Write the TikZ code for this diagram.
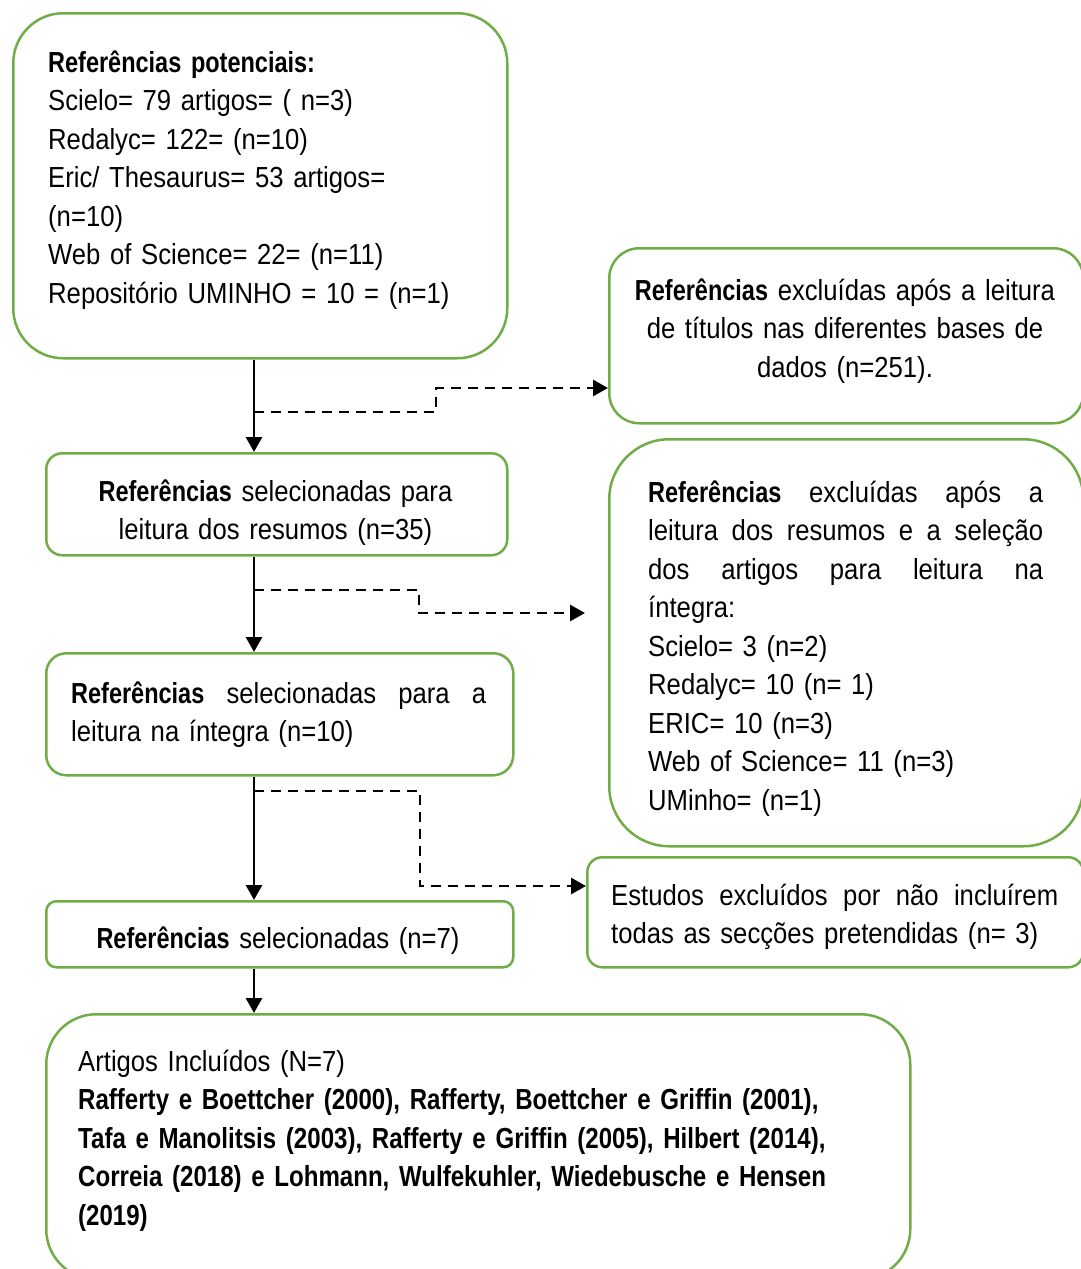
\documentclass[tikz,border=0pt]{standalone}
\usepackage{fontspec}
\setmainfont{Liberation Sans}[FakeStretch=0.885]
\newfontfamily\bcond{Liberation Sans}[FakeStretch=0.81]
\newfontfamily\bcondw{Liberation Sans}[FakeStretch=0.83]
\usetikzlibrary{arrows.meta}
\definecolor{boxgreen}{HTML}{70AD47}
\newcommand{\Rb}[1]{{\bcond\bfseries #1}}
\newcommand{\Rw}[1]{{\bcondw\bfseries #1}}
\newcommand{\jline}[2]{\leavevmode\hbox to #1{#2}}
\begin{document}
\begin{tikzpicture}[x=1pt,y=-1pt,
  box/.style={draw=boxgreen, line width=2.5pt, rounded corners=#1, anchor=north west, inner sep=0pt},
  txt/.style={anchor=north west, inner sep=0pt, text height=0pt, font=\fontsize{29pt}{38.5pt}\selectfont},
  arr/.style={line width=2.8pt, -{Triangle[length=15pt,width=16pt]}},
  darr/.style={arr, dash pattern=on 10pt off 7pt}]
\useasboundingbox (0,0) rectangle (1080,1269);
% boxes
\node[box=50pt, minimum width=494pt, minimum height=345pt] (b1) at (12,12) {};
\node[box=30pt, minimum width=474pt, minimum height=175pt] (b2) at (608,247) {};
\node[box=16pt, minimum width=461pt, minimum height=102pt] (b3) at (45,452) {};
\node[box=60pt, minimum width=474pt, minimum height=407pt] (b4) at (608,438) {};
\node[box=20pt, minimum width=467pt, minimum height=122pt] (b5) at (45,652) {};
\node[box=15pt, minimum width=496pt, minimum height=110pt] (b6) at (586,856) {};
\node[box=10pt, minimum width=467pt, minimum height=66pt] (b7) at (45,900) {};
\node[box=50pt, minimum width=864pt, minimum height=265pt] (b8) at (45,1013) {};
% texts
\node[txt, text width=450pt, align=left] (t1) at (48,72) {\Rb{Referências potenciais:}\\Scielo= 79 artigos= ( n=3)\\Redalyc= 122= (n=10)\\Eric/ Thesaurus= 53 artigos=\\(n=10)\\Web of Science= 22= (n=11)\\Repositório UMINHO = 10 = (n=1)};
\node[txt, anchor=north, text width=460pt, align=center] (t2) at (845,300) {\Rb{Referências} excluídas após a leitura\\de títulos nas diferentes bases de\\dados (n=251).};
\node[txt, anchor=north, text width=440pt, align=center] (t3) at (275.5,501) {\Rb{Referências} selecionadas para\\leitura dos resumos (n=35)};
\node[txt, text width=395pt, align=left] (t4) at (648,502) {\jline{395pt}{\Rb{Referências}\hfill excluídas\hfill após\hfill a}\\\jline{395pt}{leitura\hfill dos\hfill resumos\hfill e\hfill a\hfill seleção}\\\jline{395pt}{dos\hfill artigos\hfill para\hfill leitura\hfill na}\\íntegra:\\Scielo= 3 (n=2)\\Redalyc= 10 (n= 1)\\ERIC= 10 (n=3)\\Web of Science= 11 (n=3)\\UMinho= (n=1)};
\node[txt, text width=415pt, align=left] (t5) at (71,703) {\jline{415pt}{\Rb{Referências}\hfill selecionadas\hfill para\hfill a}\\leitura na íntegra (n=10)};
\node[txt, text width=447pt, align=left] (t6) at (611,905) {\jline{447pt}{Estudos\hfill excluídos\hfill por\hfill não\hfill incluírem}\\todas as secções pretendidas (n= 3)};
\node[txt, anchor=north, text width=440pt, align=center] (t7) at (278,948) {\Rb{Referências} selecionadas (n=7)};
\node[txt, text width=820pt, align=left] (t8) at (78,1071) {Artigos Incluídos (N=7)\\\Rw{Rafferty e Boettcher (2000), Rafferty, Boettcher e Griffin (2001),}\\\Rw{Tafa e Manolitsis (2003), Rafferty e Griffin (2005), Hilbert (2014),}\\\Rw{Correia (2018) e Lohmann, Wulfekuhler, Wiedebusche e Hensen}\\\Rw{(2019)}};
% connectors
\coordinate (spine) at (254,0);
\draw[arr] (b1.south -| spine) -- (b3.north -| spine);
\draw[arr] (b3.south -| spine) -- (b5.north -| spine);
\draw[arr] (b5.south -| spine) -- (b7.north -| spine);
\draw[arr] (b7.south -| spine) -- (b8.north -| spine);
\coordinate (d1s) at (254,412);
\coordinate (d1e) at (0,388);
\draw[darr] (d1s) -- ++(182,0) |- (b2.west |- d1e);
\coordinate (d2s) at (254,590);
\coordinate (d2e) at (585,613);
\draw[darr] (d2s) -- ++(165,0) |- (d2e);
\coordinate (d3s) at (254,791);
\coordinate (d3e) at (0,886);
\draw[darr] (d3s) -- ++(166,0) |- (b6.west |- d3e);
\end{tikzpicture}
\end{document}
